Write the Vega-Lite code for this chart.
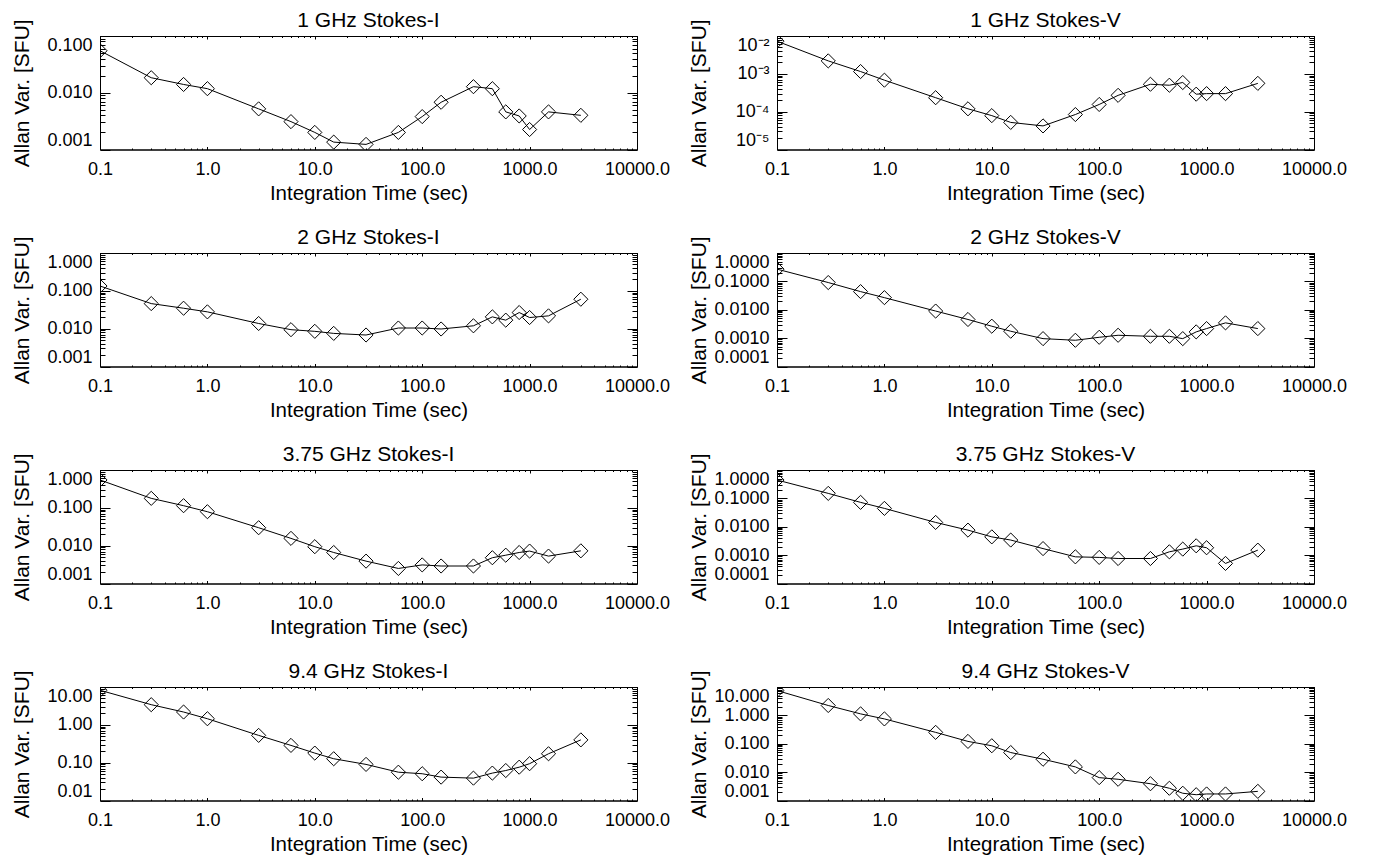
{
  "$schema": "https://vega.github.io/schema/vega-lite/v6.json",
  "padding": {"left": 10, "top": 9, "right": 5, "bottom": 5},
  "background": "white",
  "datasets": {"d": [
    {"p":"I1","t":0.1,"v":0.055},{"p":"I1","t":0.3,"v":0.0184},{"p":"I1","t":0.6,"v":0.014},{"p":"I1","t":1,"v":0.0118},{"p":"I1","t":3,"v":0.0052},{"p":"I1","t":6,"v":0.0031},{"p":"I1","t":10,"v":0.002},{"p":"I1","t":15,"v":0.00135},{"p":"I1","t":30,"v":0.00123},{"p":"I1","t":60,"v":0.002},{"p":"I1","t":100,"v":0.0038},{"p":"I1","t":150,"v":0.0068},{"p":"I1","t":300,"v":0.0128},{"p":"I1","t":450,"v":0.0118},{"p":"I1","t":600,"v":0.0046},{"p":"I1","t":800,"v":0.0039},{"p":"I1","t":1000,"v":0.00225},{"p":"I1","t":1500,"v":0.0046},{"p":"I1","t":3000,"v":0.004},
    {"p":"V1","t":0.1,"v":0.0073},{"p":"V1","t":0.3,"v":0.0022},{"p":"V1","t":0.6,"v":0.00115},{"p":"V1","t":1,"v":0.00068},{"p":"V1","t":3,"v":0.000234},{"p":"V1","t":6,"v":0.000119},{"p":"V1","t":10,"v":0.0000786},{"p":"V1","t":15,"v":0.000052},{"p":"V1","t":30,"v":0.000042},{"p":"V1","t":60,"v":0.000084},{"p":"V1","t":100,"v":0.000155},{"p":"V1","t":150,"v":0.00027},{"p":"V1","t":300,"v":0.00053},{"p":"V1","t":450,"v":0.0005},{"p":"V1","t":600,"v":0.00059},{"p":"V1","t":800,"v":0.00029},{"p":"V1","t":1000,"v":0.0003},{"p":"V1","t":1500,"v":0.0003},{"p":"V1","t":3000,"v":0.00056},
    {"p":"I2","t":0.1,"v":0.134},{"p":"I2","t":0.3,"v":0.046},{"p":"I2","t":0.6,"v":0.0347},{"p":"I2","t":1,"v":0.0278},{"p":"I2","t":3,"v":0.0137},{"p":"I2","t":6,"v":0.0094},{"p":"I2","t":10,"v":0.0085},{"p":"I2","t":15,"v":0.0075},{"p":"I2","t":30,"v":0.0068},{"p":"I2","t":60,"v":0.0104},{"p":"I2","t":100,"v":0.0104},{"p":"I2","t":150,"v":0.0098},{"p":"I2","t":300,"v":0.0119},{"p":"I2","t":450,"v":0.0205},{"p":"I2","t":600,"v":0.0168},{"p":"I2","t":800,"v":0.0267},{"p":"I2","t":1000,"v":0.0197},{"p":"I2","t":1500,"v":0.0218},{"p":"I2","t":3000,"v":0.06},
    {"p":"V2","t":0.1,"v":0.27},{"p":"V2","t":0.3,"v":0.091},{"p":"V2","t":0.6,"v":0.0436},{"p":"V2","t":1,"v":0.0267},{"p":"V2","t":3,"v":0.009},{"p":"V2","t":6,"v":0.00454},{"p":"V2","t":10,"v":0.00263},{"p":"V2","t":15,"v":0.00175},{"p":"V2","t":30,"v":0.00096},{"p":"V2","t":60,"v":0.00084},{"p":"V2","t":100,"v":0.00107},{"p":"V2","t":150,"v":0.00126},{"p":"V2","t":300,"v":0.00116},{"p":"V2","t":450,"v":0.00116},{"p":"V2","t":600,"v":0.00096},{"p":"V2","t":800,"v":0.00166},{"p":"V2","t":1000,"v":0.00217},{"p":"V2","t":1500,"v":0.00345},{"p":"V2","t":3000,"v":0.00217},
    {"p":"I3","t":0.1,"v":0.545},{"p":"I3","t":0.3,"v":0.178},{"p":"I3","t":0.6,"v":0.114},{"p":"I3","t":1,"v":0.079},{"p":"I3","t":3,"v":0.0298},{"p":"I3","t":6,"v":0.0156},{"p":"I3","t":10,"v":0.0094},{"p":"I3","t":15,"v":0.0066},{"p":"I3","t":30,"v":0.0039},{"p":"I3","t":60,"v":0.0025},{"p":"I3","t":100,"v":0.0031},{"p":"I3","t":150,"v":0.0029},{"p":"I3","t":300,"v":0.0029},{"p":"I3","t":450,"v":0.0048},{"p":"I3","t":600,"v":0.0056},{"p":"I3","t":800,"v":0.0066},{"p":"I3","t":1000,"v":0.0072},{"p":"I3","t":1500,"v":0.0053},{"p":"I3","t":3000,"v":0.0073},
    {"p":"V3","t":0.1,"v":0.444},{"p":"V3","t":0.3,"v":0.15},{"p":"V3","t":0.6,"v":0.0723},{"p":"V3","t":1,"v":0.0444},{"p":"V3","t":3,"v":0.0142},{"p":"V3","t":6,"v":0.0076},{"p":"V3","t":10,"v":0.0044},{"p":"V3","t":15,"v":0.0034},{"p":"V3","t":30,"v":0.0017},{"p":"V3","t":60,"v":0.00087},{"p":"V3","t":100,"v":0.00083},{"p":"V3","t":150,"v":0.00076},{"p":"V3","t":300,"v":0.00076},{"p":"V3","t":450,"v":0.00131},{"p":"V3","t":600,"v":0.00163},{"p":"V3","t":800,"v":0.00213},{"p":"V3","t":1000,"v":0.00182},{"p":"V3","t":1500,"v":0.00051},{"p":"V3","t":3000,"v":0.0015},
    {"p":"I9","t":0.1,"v":8.2},{"p":"I9","t":0.3,"v":3.41},{"p":"I9","t":0.6,"v":2.18},{"p":"I9","t":1,"v":1.45},{"p":"I9","t":3,"v":0.526},{"p":"I9","t":6,"v":0.286},{"p":"I9","t":10,"v":0.179},{"p":"I9","t":15,"v":0.127},{"p":"I9","t":30,"v":0.09},{"p":"I9","t":60,"v":0.056},{"p":"I9","t":100,"v":0.051},{"p":"I9","t":150,"v":0.0415},{"p":"I9","t":300,"v":0.039},{"p":"I9","t":450,"v":0.053},{"p":"I9","t":600,"v":0.062},{"p":"I9","t":800,"v":0.076},{"p":"I9","t":1000,"v":0.094},{"p":"I9","t":1500,"v":0.172},{"p":"I9","t":3000,"v":0.4},
    {"p":"V9","t":0.1,"v":7.5},{"p":"V9","t":0.3,"v":2.23},{"p":"V9","t":0.6,"v":1.13},{"p":"V9","t":1,"v":0.75},{"p":"V9","t":3,"v":0.252},{"p":"V9","t":6,"v":0.121},{"p":"V9","t":10,"v":0.085},{"p":"V9","t":15,"v":0.049},{"p":"V9","t":30,"v":0.0285},{"p":"V9","t":60,"v":0.0153},{"p":"V9","t":100,"v":0.0064},{"p":"V9","t":150,"v":0.0056},{"p":"V9","t":300,"v":0.0039},{"p":"V9","t":450,"v":0.0027},{"p":"V9","t":600,"v":0.0018},{"p":"V9","t":800,"v":0.0016},{"p":"V9","t":1000,"v":0.0017},{"p":"V9","t":1500,"v":0.0017},{"p":"V9","t":3000,"v":0.0021}
  ]},
  "data": {"name": "d"},
  "columns": 2,
  "spacing": {"row": 103, "column": 140},
  "bounds": "flush",
  "align": "all",
  "concat": [
    {
      "title": {"text": "1 GHz Stokes-I"},
      "width": 537, "height": 113.5,
      "transform": [{"filter": "datum.p == 'I1'"}],
      "layer": [
        {"mark": {"type": "line", "color": "black", "strokeWidth": 1, "clip": true},
         "encoding": {
          "x": {"field": "t", "type": "quantitative", "scale": {"type": "log", "domain": [0.1, 10000], "nice": false},
                "axis": {"orient": "bottom", "values": [0.1,0.2,0.3,0.4,0.5,0.6,0.7,0.8,0.9,1,2,3,4,5,6,7,8,9,10,20,30,40,50,60,70,80,90,100,200,300,400,500,600,700,800,900,1000,2000,3000,4000,5000,6000,7000,8000,9000,10000], "labelExpr": "abs(log(datum.value)/LN10 - round(log(datum.value)/LN10)) < 0.0001 ? format(datum.value, '.1f') : ''", "labelFlush": false, "labelPadding": 14, "tickSize": {"condition": {"test": "abs(log(datum.value)/LN10 - round(log(datum.value)/LN10)) < 0.0001", "value": -3}, "value": -1.5}, "title": "Integration Time (sec)", "titleFontSize": 20.5, "titleY": 50, "titleBaseline": "alphabetic"}},
          "y": {"field": "v", "type": "quantitative", "scale": {"type": "log", "domain": [0.001, 0.1], "nice": false},
                "axis": {"orient": "left", "values": [0.001,0.002,0.003,0.004,0.005,0.006,0.007,0.008,0.009,0.01,0.02,0.03,0.04,0.05,0.06,0.07,0.08,0.09,0.1], "labelExpr": "abs(log(datum.value)/LN10 - round(log(datum.value)/LN10)) < 0.0001 ? format(datum.value, '.3f') : ''", "labelFlush": true, "labelPadding": 18, "tickSize": {"condition": {"test": "abs(log(datum.value)/LN10 - round(log(datum.value)/LN10)) < 0.0001", "value": -10}, "value": -5}, "title": "Allan Var. [SFU]", "titleFontSize": 21, "titleX": -72, "titleY": 56.75, "titleBaseline": "alphabetic", "titleAlign": "center", "titleAngle": 270}}
         }},
        {"mark": {"type": "point", "shape": "diamond", "size": 200, "filled": false, "color": "black", "strokeWidth": 1, "opacity": 1, "clip": true},
         "encoding": {
          "x": {"field": "t", "type": "quantitative", "axis": {"orient": "top", "values": [0.1,0.2,0.3,0.4,0.5,0.6,0.7,0.8,0.9,1,2,3,4,5,6,7,8,9,10,20,30,40,50,60,70,80,90,100,200,300,400,500,600,700,800,900,1000,2000,3000,4000,5000,6000,7000,8000,9000,10000], "labels": false, "title": null, "tickSize": {"condition": {"test": "abs(log(datum.value)/LN10 - round(log(datum.value)/LN10)) < 0.0001", "value": -3}, "value": -1.5}}},
          "y": {"field": "v", "type": "quantitative", "axis": {"orient": "right", "values": [0.001,0.002,0.003,0.004,0.005,0.006,0.007,0.008,0.009,0.01,0.02,0.03,0.04,0.05,0.06,0.07,0.08,0.09,0.1], "labels": false, "title": null, "tickSize": {"condition": {"test": "abs(log(datum.value)/LN10 - round(log(datum.value)/LN10)) < 0.0001", "value": -10}, "value": -5}}}
         }}
      ],
      "resolve": {"axis": {"x": "independent", "y": "independent"}}
    },
    {
      "title": {"text": "1 GHz Stokes-V"},
      "width": 537, "height": 113.5,
      "transform": [{"filter": "datum.p == 'V1'"}],
      "layer": [
        {"mark": {"type": "line", "color": "black", "strokeWidth": 1, "clip": true},
         "encoding": {
          "x": {"field": "t", "type": "quantitative", "scale": {"type": "log", "domain": [0.1, 10000], "nice": false},
                "axis": {"orient": "bottom", "values": [0.1,0.2,0.3,0.4,0.5,0.6,0.7,0.8,0.9,1,2,3,4,5,6,7,8,9,10,20,30,40,50,60,70,80,90,100,200,300,400,500,600,700,800,900,1000,2000,3000,4000,5000,6000,7000,8000,9000,10000], "labelExpr": "abs(log(datum.value)/LN10 - round(log(datum.value)/LN10)) < 0.0001 ? format(datum.value, '.1f') : ''", "labelFlush": false, "labelPadding": 14, "tickSize": {"condition": {"test": "abs(log(datum.value)/LN10 - round(log(datum.value)/LN10)) < 0.0001", "value": -3}, "value": -1.5}, "title": "Integration Time (sec)", "titleFontSize": 20.5, "titleY": 50, "titleBaseline": "alphabetic"}},
          "y": {"field": "v", "type": "quantitative", "scale": {"type": "log", "domain": [0.00001, 0.01], "nice": false},
                "axis": {"orient": "left", "values": [0.00001,0.00002,0.00003,0.00004,0.00005,0.00006,0.00007,0.00008,0.00009,0.0001,0.0002,0.0003,0.0004,0.0005,0.0006,0.0007,0.0008,0.0009,0.001,0.002,0.003,0.004,0.005,0.006,0.007,0.008,0.009,0.01], "labelExpr": "abs(log(datum.value)/LN10 - round(log(datum.value)/LN10)) < 0.0001 ? '10' + (round(log(datum.value)/LN10) == -2 ? '⁻²' : round(log(datum.value)/LN10) == -3 ? '⁻³' : round(log(datum.value)/LN10) == -4 ? '⁻⁴' : '⁻⁵') : ''", "labelFlush": true, "labelPadding": 18, "tickSize": {"condition": {"test": "abs(log(datum.value)/LN10 - round(log(datum.value)/LN10)) < 0.0001", "value": -10}, "value": -5}, "title": "Allan Var. [SFU]", "titleFontSize": 21, "titleX": -72, "titleY": 56.75, "titleBaseline": "alphabetic", "titleAlign": "center", "titleAngle": 270}}
         }},
        {"mark": {"type": "point", "shape": "diamond", "size": 200, "filled": false, "color": "black", "strokeWidth": 1, "opacity": 1, "clip": true},
         "encoding": {
          "x": {"field": "t", "type": "quantitative", "axis": {"orient": "top", "values": [0.1,0.2,0.3,0.4,0.5,0.6,0.7,0.8,0.9,1,2,3,4,5,6,7,8,9,10,20,30,40,50,60,70,80,90,100,200,300,400,500,600,700,800,900,1000,2000,3000,4000,5000,6000,7000,8000,9000,10000], "labels": false, "title": null, "tickSize": {"condition": {"test": "abs(log(datum.value)/LN10 - round(log(datum.value)/LN10)) < 0.0001", "value": -3}, "value": -1.5}}},
          "y": {"field": "v", "type": "quantitative", "axis": {"orient": "right", "values": [0.00001,0.00002,0.00003,0.00004,0.00005,0.00006,0.00007,0.00008,0.00009,0.0001,0.0002,0.0003,0.0004,0.0005,0.0006,0.0007,0.0008,0.0009,0.001,0.002,0.003,0.004,0.005,0.006,0.007,0.008,0.009,0.01], "labels": false, "title": null, "tickSize": {"condition": {"test": "abs(log(datum.value)/LN10 - round(log(datum.value)/LN10)) < 0.0001", "value": -10}, "value": -5}}}
         }}
      ],
      "resolve": {"axis": {"x": "independent", "y": "independent"}}
    },
    {
      "title": {"text": "2 GHz Stokes-I"},
      "width": 537, "height": 113.5,
      "transform": [{"filter": "datum.p == 'I2'"}],
      "layer": [
        {"mark": {"type": "line", "color": "black", "strokeWidth": 1, "clip": true},
         "encoding": {
          "x": {"field": "t", "type": "quantitative", "scale": {"type": "log", "domain": [0.1, 10000], "nice": false},
                "axis": {"orient": "bottom", "values": [0.1,0.2,0.3,0.4,0.5,0.6,0.7,0.8,0.9,1,2,3,4,5,6,7,8,9,10,20,30,40,50,60,70,80,90,100,200,300,400,500,600,700,800,900,1000,2000,3000,4000,5000,6000,7000,8000,9000,10000], "labelExpr": "abs(log(datum.value)/LN10 - round(log(datum.value)/LN10)) < 0.0001 ? format(datum.value, '.1f') : ''", "labelFlush": false, "labelPadding": 14, "tickSize": {"condition": {"test": "abs(log(datum.value)/LN10 - round(log(datum.value)/LN10)) < 0.0001", "value": -3}, "value": -1.5}, "title": "Integration Time (sec)", "titleFontSize": 20.5, "titleY": 50, "titleBaseline": "alphabetic"}},
          "y": {"field": "v", "type": "quantitative", "scale": {"type": "log", "domain": [0.001, 1], "nice": false},
                "axis": {"orient": "left", "values": [0.001,0.002,0.003,0.004,0.005,0.006,0.007,0.008,0.009,0.01,0.02,0.03,0.04,0.05,0.06,0.07,0.08,0.09,0.1,0.2,0.3,0.4,0.5,0.6,0.7,0.8,0.9,1], "labelExpr": "abs(log(datum.value)/LN10 - round(log(datum.value)/LN10)) < 0.0001 ? format(datum.value, '.3f') : ''", "labelFlush": true, "labelPadding": 18, "tickSize": {"condition": {"test": "abs(log(datum.value)/LN10 - round(log(datum.value)/LN10)) < 0.0001", "value": -10}, "value": -5}, "title": "Allan Var. [SFU]", "titleFontSize": 21, "titleX": -72, "titleY": 56.75, "titleBaseline": "alphabetic", "titleAlign": "center", "titleAngle": 270}}
         }},
        {"mark": {"type": "point", "shape": "diamond", "size": 200, "filled": false, "color": "black", "strokeWidth": 1, "opacity": 1, "clip": true},
         "encoding": {
          "x": {"field": "t", "type": "quantitative", "axis": {"orient": "top", "values": [0.1,0.2,0.3,0.4,0.5,0.6,0.7,0.8,0.9,1,2,3,4,5,6,7,8,9,10,20,30,40,50,60,70,80,90,100,200,300,400,500,600,700,800,900,1000,2000,3000,4000,5000,6000,7000,8000,9000,10000], "labels": false, "title": null, "tickSize": {"condition": {"test": "abs(log(datum.value)/LN10 - round(log(datum.value)/LN10)) < 0.0001", "value": -3}, "value": -1.5}}},
          "y": {"field": "v", "type": "quantitative", "axis": {"orient": "right", "values": [0.001,0.002,0.003,0.004,0.005,0.006,0.007,0.008,0.009,0.01,0.02,0.03,0.04,0.05,0.06,0.07,0.08,0.09,0.1,0.2,0.3,0.4,0.5,0.6,0.7,0.8,0.9,1], "labels": false, "title": null, "tickSize": {"condition": {"test": "abs(log(datum.value)/LN10 - round(log(datum.value)/LN10)) < 0.0001", "value": -10}, "value": -5}}}
         }}
      ],
      "resolve": {"axis": {"x": "independent", "y": "independent"}}
    },
    {
      "title": {"text": "2 GHz Stokes-V"},
      "width": 537, "height": 113.5,
      "transform": [{"filter": "datum.p == 'V2'"}],
      "layer": [
        {"mark": {"type": "line", "color": "black", "strokeWidth": 1, "clip": true},
         "encoding": {
          "x": {"field": "t", "type": "quantitative", "scale": {"type": "log", "domain": [0.1, 10000], "nice": false},
                "axis": {"orient": "bottom", "values": [0.1,0.2,0.3,0.4,0.5,0.6,0.7,0.8,0.9,1,2,3,4,5,6,7,8,9,10,20,30,40,50,60,70,80,90,100,200,300,400,500,600,700,800,900,1000,2000,3000,4000,5000,6000,7000,8000,9000,10000], "labelExpr": "abs(log(datum.value)/LN10 - round(log(datum.value)/LN10)) < 0.0001 ? format(datum.value, '.1f') : ''", "labelFlush": false, "labelPadding": 14, "tickSize": {"condition": {"test": "abs(log(datum.value)/LN10 - round(log(datum.value)/LN10)) < 0.0001", "value": -3}, "value": -1.5}, "title": "Integration Time (sec)", "titleFontSize": 20.5, "titleY": 50, "titleBaseline": "alphabetic"}},
          "y": {"field": "v", "type": "quantitative", "scale": {"type": "log", "domain": [0.0001, 1], "nice": false},
                "axis": {"orient": "left", "values": [0.0001,0.0002,0.0003,0.0004,0.0005,0.0006,0.0007,0.0008,0.0009,0.001,0.002,0.003,0.004,0.005,0.006,0.007,0.008,0.009,0.01,0.02,0.03,0.04,0.05,0.06,0.07,0.08,0.09,0.1,0.2,0.3,0.4,0.5,0.6,0.7,0.8,0.9,1], "labelExpr": "abs(log(datum.value)/LN10 - round(log(datum.value)/LN10)) < 0.0001 ? format(datum.value, '.4f') : ''", "labelFlush": true, "labelPadding": 18, "tickSize": {"condition": {"test": "abs(log(datum.value)/LN10 - round(log(datum.value)/LN10)) < 0.0001", "value": -10}, "value": -5}, "title": "Allan Var. [SFU]", "titleFontSize": 21, "titleX": -72, "titleY": 56.75, "titleBaseline": "alphabetic", "titleAlign": "center", "titleAngle": 270}}
         }},
        {"mark": {"type": "point", "shape": "diamond", "size": 200, "filled": false, "color": "black", "strokeWidth": 1, "opacity": 1, "clip": true},
         "encoding": {
          "x": {"field": "t", "type": "quantitative", "axis": {"orient": "top", "values": [0.1,0.2,0.3,0.4,0.5,0.6,0.7,0.8,0.9,1,2,3,4,5,6,7,8,9,10,20,30,40,50,60,70,80,90,100,200,300,400,500,600,700,800,900,1000,2000,3000,4000,5000,6000,7000,8000,9000,10000], "labels": false, "title": null, "tickSize": {"condition": {"test": "abs(log(datum.value)/LN10 - round(log(datum.value)/LN10)) < 0.0001", "value": -3}, "value": -1.5}}},
          "y": {"field": "v", "type": "quantitative", "axis": {"orient": "right", "values": [0.0001,0.0002,0.0003,0.0004,0.0005,0.0006,0.0007,0.0008,0.0009,0.001,0.002,0.003,0.004,0.005,0.006,0.007,0.008,0.009,0.01,0.02,0.03,0.04,0.05,0.06,0.07,0.08,0.09,0.1,0.2,0.3,0.4,0.5,0.6,0.7,0.8,0.9,1], "labels": false, "title": null, "tickSize": {"condition": {"test": "abs(log(datum.value)/LN10 - round(log(datum.value)/LN10)) < 0.0001", "value": -10}, "value": -5}}}
         }}
      ],
      "resolve": {"axis": {"x": "independent", "y": "independent"}}
    },
    {
      "title": {"text": "3.75 GHz Stokes-I"},
      "width": 537, "height": 113.5,
      "transform": [{"filter": "datum.p == 'I3'"}],
      "layer": [
        {"mark": {"type": "line", "color": "black", "strokeWidth": 1, "clip": true},
         "encoding": {
          "x": {"field": "t", "type": "quantitative", "scale": {"type": "log", "domain": [0.1, 10000], "nice": false},
                "axis": {"orient": "bottom", "values": [0.1,0.2,0.3,0.4,0.5,0.6,0.7,0.8,0.9,1,2,3,4,5,6,7,8,9,10,20,30,40,50,60,70,80,90,100,200,300,400,500,600,700,800,900,1000,2000,3000,4000,5000,6000,7000,8000,9000,10000], "labelExpr": "abs(log(datum.value)/LN10 - round(log(datum.value)/LN10)) < 0.0001 ? format(datum.value, '.1f') : ''", "labelFlush": false, "labelPadding": 14, "tickSize": {"condition": {"test": "abs(log(datum.value)/LN10 - round(log(datum.value)/LN10)) < 0.0001", "value": -3}, "value": -1.5}, "title": "Integration Time (sec)", "titleFontSize": 20.5, "titleY": 50, "titleBaseline": "alphabetic"}},
          "y": {"field": "v", "type": "quantitative", "scale": {"type": "log", "domain": [0.001, 1], "nice": false},
                "axis": {"orient": "left", "values": [0.001,0.002,0.003,0.004,0.005,0.006,0.007,0.008,0.009,0.01,0.02,0.03,0.04,0.05,0.06,0.07,0.08,0.09,0.1,0.2,0.3,0.4,0.5,0.6,0.7,0.8,0.9,1], "labelExpr": "abs(log(datum.value)/LN10 - round(log(datum.value)/LN10)) < 0.0001 ? format(datum.value, '.3f') : ''", "labelFlush": true, "labelPadding": 18, "tickSize": {"condition": {"test": "abs(log(datum.value)/LN10 - round(log(datum.value)/LN10)) < 0.0001", "value": -10}, "value": -5}, "title": "Allan Var. [SFU]", "titleFontSize": 21, "titleX": -72, "titleY": 56.75, "titleBaseline": "alphabetic", "titleAlign": "center", "titleAngle": 270}}
         }},
        {"mark": {"type": "point", "shape": "diamond", "size": 200, "filled": false, "color": "black", "strokeWidth": 1, "opacity": 1, "clip": true},
         "encoding": {
          "x": {"field": "t", "type": "quantitative", "axis": {"orient": "top", "values": [0.1,0.2,0.3,0.4,0.5,0.6,0.7,0.8,0.9,1,2,3,4,5,6,7,8,9,10,20,30,40,50,60,70,80,90,100,200,300,400,500,600,700,800,900,1000,2000,3000,4000,5000,6000,7000,8000,9000,10000], "labels": false, "title": null, "tickSize": {"condition": {"test": "abs(log(datum.value)/LN10 - round(log(datum.value)/LN10)) < 0.0001", "value": -3}, "value": -1.5}}},
          "y": {"field": "v", "type": "quantitative", "axis": {"orient": "right", "values": [0.001,0.002,0.003,0.004,0.005,0.006,0.007,0.008,0.009,0.01,0.02,0.03,0.04,0.05,0.06,0.07,0.08,0.09,0.1,0.2,0.3,0.4,0.5,0.6,0.7,0.8,0.9,1], "labels": false, "title": null, "tickSize": {"condition": {"test": "abs(log(datum.value)/LN10 - round(log(datum.value)/LN10)) < 0.0001", "value": -10}, "value": -5}}}
         }}
      ],
      "resolve": {"axis": {"x": "independent", "y": "independent"}}
    },
    {
      "title": {"text": "3.75 GHz Stokes-V"},
      "width": 537, "height": 113.5,
      "transform": [{"filter": "datum.p == 'V3'"}],
      "layer": [
        {"mark": {"type": "line", "color": "black", "strokeWidth": 1, "clip": true},
         "encoding": {
          "x": {"field": "t", "type": "quantitative", "scale": {"type": "log", "domain": [0.1, 10000], "nice": false},
                "axis": {"orient": "bottom", "values": [0.1,0.2,0.3,0.4,0.5,0.6,0.7,0.8,0.9,1,2,3,4,5,6,7,8,9,10,20,30,40,50,60,70,80,90,100,200,300,400,500,600,700,800,900,1000,2000,3000,4000,5000,6000,7000,8000,9000,10000], "labelExpr": "abs(log(datum.value)/LN10 - round(log(datum.value)/LN10)) < 0.0001 ? format(datum.value, '.1f') : ''", "labelFlush": false, "labelPadding": 14, "tickSize": {"condition": {"test": "abs(log(datum.value)/LN10 - round(log(datum.value)/LN10)) < 0.0001", "value": -3}, "value": -1.5}, "title": "Integration Time (sec)", "titleFontSize": 20.5, "titleY": 50, "titleBaseline": "alphabetic"}},
          "y": {"field": "v", "type": "quantitative", "scale": {"type": "log", "domain": [0.0001, 1], "nice": false},
                "axis": {"orient": "left", "values": [0.0001,0.0002,0.0003,0.0004,0.0005,0.0006,0.0007,0.0008,0.0009,0.001,0.002,0.003,0.004,0.005,0.006,0.007,0.008,0.009,0.01,0.02,0.03,0.04,0.05,0.06,0.07,0.08,0.09,0.1,0.2,0.3,0.4,0.5,0.6,0.7,0.8,0.9,1], "labelExpr": "abs(log(datum.value)/LN10 - round(log(datum.value)/LN10)) < 0.0001 ? format(datum.value, '.4f') : ''", "labelFlush": true, "labelPadding": 18, "tickSize": {"condition": {"test": "abs(log(datum.value)/LN10 - round(log(datum.value)/LN10)) < 0.0001", "value": -10}, "value": -5}, "title": "Allan Var. [SFU]", "titleFontSize": 21, "titleX": -72, "titleY": 56.75, "titleBaseline": "alphabetic", "titleAlign": "center", "titleAngle": 270}}
         }},
        {"mark": {"type": "point", "shape": "diamond", "size": 200, "filled": false, "color": "black", "strokeWidth": 1, "opacity": 1, "clip": true},
         "encoding": {
          "x": {"field": "t", "type": "quantitative", "axis": {"orient": "top", "values": [0.1,0.2,0.3,0.4,0.5,0.6,0.7,0.8,0.9,1,2,3,4,5,6,7,8,9,10,20,30,40,50,60,70,80,90,100,200,300,400,500,600,700,800,900,1000,2000,3000,4000,5000,6000,7000,8000,9000,10000], "labels": false, "title": null, "tickSize": {"condition": {"test": "abs(log(datum.value)/LN10 - round(log(datum.value)/LN10)) < 0.0001", "value": -3}, "value": -1.5}}},
          "y": {"field": "v", "type": "quantitative", "axis": {"orient": "right", "values": [0.0001,0.0002,0.0003,0.0004,0.0005,0.0006,0.0007,0.0008,0.0009,0.001,0.002,0.003,0.004,0.005,0.006,0.007,0.008,0.009,0.01,0.02,0.03,0.04,0.05,0.06,0.07,0.08,0.09,0.1,0.2,0.3,0.4,0.5,0.6,0.7,0.8,0.9,1], "labels": false, "title": null, "tickSize": {"condition": {"test": "abs(log(datum.value)/LN10 - round(log(datum.value)/LN10)) < 0.0001", "value": -10}, "value": -5}}}
         }}
      ],
      "resolve": {"axis": {"x": "independent", "y": "independent"}}
    },
    {
      "title": {"text": "9.4 GHz Stokes-I"},
      "width": 537, "height": 113.5,
      "transform": [{"filter": "datum.p == 'I9'"}],
      "layer": [
        {"mark": {"type": "line", "color": "black", "strokeWidth": 1, "clip": true},
         "encoding": {
          "x": {"field": "t", "type": "quantitative", "scale": {"type": "log", "domain": [0.1, 10000], "nice": false},
                "axis": {"orient": "bottom", "values": [0.1,0.2,0.3,0.4,0.5,0.6,0.7,0.8,0.9,1,2,3,4,5,6,7,8,9,10,20,30,40,50,60,70,80,90,100,200,300,400,500,600,700,800,900,1000,2000,3000,4000,5000,6000,7000,8000,9000,10000], "labelExpr": "abs(log(datum.value)/LN10 - round(log(datum.value)/LN10)) < 0.0001 ? format(datum.value, '.1f') : ''", "labelFlush": false, "labelPadding": 14, "tickSize": {"condition": {"test": "abs(log(datum.value)/LN10 - round(log(datum.value)/LN10)) < 0.0001", "value": -3}, "value": -1.5}, "title": "Integration Time (sec)", "titleFontSize": 20.5, "titleY": 50, "titleBaseline": "alphabetic"}},
          "y": {"field": "v", "type": "quantitative", "scale": {"type": "log", "domain": [0.01, 10], "nice": false},
                "axis": {"orient": "left", "values": [0.01,0.02,0.03,0.04,0.05,0.06,0.07,0.08,0.09,0.1,0.2,0.3,0.4,0.5,0.6,0.7,0.8,0.9,1,2,3,4,5,6,7,8,9,10], "labelExpr": "abs(log(datum.value)/LN10 - round(log(datum.value)/LN10)) < 0.0001 ? format(datum.value, '.2f') : ''", "labelFlush": true, "labelPadding": 18, "tickSize": {"condition": {"test": "abs(log(datum.value)/LN10 - round(log(datum.value)/LN10)) < 0.0001", "value": -10}, "value": -5}, "title": "Allan Var. [SFU]", "titleFontSize": 21, "titleX": -72, "titleY": 56.75, "titleBaseline": "alphabetic", "titleAlign": "center", "titleAngle": 270}}
         }},
        {"mark": {"type": "point", "shape": "diamond", "size": 200, "filled": false, "color": "black", "strokeWidth": 1, "opacity": 1, "clip": true},
         "encoding": {
          "x": {"field": "t", "type": "quantitative", "axis": {"orient": "top", "values": [0.1,0.2,0.3,0.4,0.5,0.6,0.7,0.8,0.9,1,2,3,4,5,6,7,8,9,10,20,30,40,50,60,70,80,90,100,200,300,400,500,600,700,800,900,1000,2000,3000,4000,5000,6000,7000,8000,9000,10000], "labels": false, "title": null, "tickSize": {"condition": {"test": "abs(log(datum.value)/LN10 - round(log(datum.value)/LN10)) < 0.0001", "value": -3}, "value": -1.5}}},
          "y": {"field": "v", "type": "quantitative", "axis": {"orient": "right", "values": [0.01,0.02,0.03,0.04,0.05,0.06,0.07,0.08,0.09,0.1,0.2,0.3,0.4,0.5,0.6,0.7,0.8,0.9,1,2,3,4,5,6,7,8,9,10], "labels": false, "title": null, "tickSize": {"condition": {"test": "abs(log(datum.value)/LN10 - round(log(datum.value)/LN10)) < 0.0001", "value": -10}, "value": -5}}}
         }}
      ],
      "resolve": {"axis": {"x": "independent", "y": "independent"}}
    },
    {
      "title": {"text": "9.4 GHz Stokes-V"},
      "width": 537, "height": 113.5,
      "transform": [{"filter": "datum.p == 'V9'"}],
      "layer": [
        {"mark": {"type": "line", "color": "black", "strokeWidth": 1, "clip": true},
         "encoding": {
          "x": {"field": "t", "type": "quantitative", "scale": {"type": "log", "domain": [0.1, 10000], "nice": false},
                "axis": {"orient": "bottom", "values": [0.1,0.2,0.3,0.4,0.5,0.6,0.7,0.8,0.9,1,2,3,4,5,6,7,8,9,10,20,30,40,50,60,70,80,90,100,200,300,400,500,600,700,800,900,1000,2000,3000,4000,5000,6000,7000,8000,9000,10000], "labelExpr": "abs(log(datum.value)/LN10 - round(log(datum.value)/LN10)) < 0.0001 ? format(datum.value, '.1f') : ''", "labelFlush": false, "labelPadding": 14, "tickSize": {"condition": {"test": "abs(log(datum.value)/LN10 - round(log(datum.value)/LN10)) < 0.0001", "value": -3}, "value": -1.5}, "title": "Integration Time (sec)", "titleFontSize": 20.5, "titleY": 50, "titleBaseline": "alphabetic"}},
          "y": {"field": "v", "type": "quantitative", "scale": {"type": "log", "domain": [0.001, 10], "nice": false},
                "axis": {"orient": "left", "values": [0.001,0.002,0.003,0.004,0.005,0.006,0.007,0.008,0.009,0.01,0.02,0.03,0.04,0.05,0.06,0.07,0.08,0.09,0.1,0.2,0.3,0.4,0.5,0.6,0.7,0.8,0.9,1,2,3,4,5,6,7,8,9,10], "labelExpr": "abs(log(datum.value)/LN10 - round(log(datum.value)/LN10)) < 0.0001 ? format(datum.value, '.3f') : ''", "labelFlush": true, "labelPadding": 18, "tickSize": {"condition": {"test": "abs(log(datum.value)/LN10 - round(log(datum.value)/LN10)) < 0.0001", "value": -10}, "value": -5}, "title": "Allan Var. [SFU]", "titleFontSize": 21, "titleX": -72, "titleY": 56.75, "titleBaseline": "alphabetic", "titleAlign": "center", "titleAngle": 270}}
         }},
        {"mark": {"type": "point", "shape": "diamond", "size": 200, "filled": false, "color": "black", "strokeWidth": 1, "opacity": 1, "clip": true},
         "encoding": {
          "x": {"field": "t", "type": "quantitative", "axis": {"orient": "top", "values": [0.1,0.2,0.3,0.4,0.5,0.6,0.7,0.8,0.9,1,2,3,4,5,6,7,8,9,10,20,30,40,50,60,70,80,90,100,200,300,400,500,600,700,800,900,1000,2000,3000,4000,5000,6000,7000,8000,9000,10000], "labels": false, "title": null, "tickSize": {"condition": {"test": "abs(log(datum.value)/LN10 - round(log(datum.value)/LN10)) < 0.0001", "value": -3}, "value": -1.5}}},
          "y": {"field": "v", "type": "quantitative", "axis": {"orient": "right", "values": [0.001,0.002,0.003,0.004,0.005,0.006,0.007,0.008,0.009,0.01,0.02,0.03,0.04,0.05,0.06,0.07,0.08,0.09,0.1,0.2,0.3,0.4,0.5,0.6,0.7,0.8,0.9,1,2,3,4,5,6,7,8,9,10], "labels": false, "title": null, "tickSize": {"condition": {"test": "abs(log(datum.value)/LN10 - round(log(datum.value)/LN10)) < 0.0001", "value": -10}, "value": -5}}}
         }}
      ],
      "resolve": {"axis": {"x": "independent", "y": "independent"}}
    }
  ],
  "config": {
    "view": {"stroke": "black", "strokeWidth": 1},
    "font": "Liberation Sans",
    "axis": {"grid": false, "domainColor": "black", "domainWidth": 1, "tickColor": "black", "tickWidth": 1, "labelColor": "black", "labelFont": "Liberation Sans", "labelFontSize": 18, "labelOverlap": false, "titleColor": "black", "titleFont": "Liberation Sans", "titleFontWeight": "normal"},
    "title": {"font": "Liberation Sans", "fontSize": 21, "fontWeight": "normal", "color": "black", "anchor": "middle", "frame": "group", "baseline": "alphabetic", "offset": -12}
  }
}
